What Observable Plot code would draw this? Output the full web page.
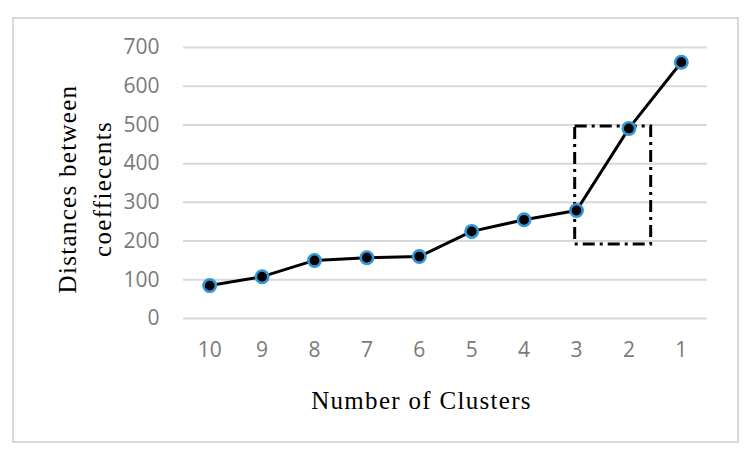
<!DOCTYPE html>
<html>
<head>
<meta charset="utf-8">
<script src="https://cdn.jsdelivr.net/npm/d3@7"></script>
<script src="https://cdn.jsdelivr.net/npm/@observablehq/plot@0.6"></script>
<style>
  html, body { margin: 0; padding: 0; background: #fff; }
  #wrap { position: relative; width: 749px; height: 456px; }
  #frame { position: absolute; left: 12px; top: 17px; width: 723px; height: 422px; border: 2px solid #d9d9d9; pointer-events: none; }
  #wrap svg g[aria-label="text"] text { letter-spacing: 1.3px; }
</style>
</head>
<body>
<div id="wrap"><div id="frame"></div></div>
<script>
const clusters = [10, 9, 8, 7, 6, 5, 4, 3, 2, 1];
const distances = [85, 108, 150, 157, 160, 225, 255, 279, 491, 662];
const yTicks = [0, 100, 200, 300, 400, 500, 600, 700];
const highlight = [{x1: 3.025, x2: 1.575, y1: 191, y2: 496}];
const xTitle = "Number of Clusters";
const yTitle = "Distances between\ncoeffiecents";

const data = clusters.map((c, i) => ({cluster: c, distance: distances[i]}));
const tickFont = "'Open Sans', sans-serif";
const titleFont = "'Liberation Serif', serif";

const chart = Plot.plot({
  width: 749,
  height: 456,
  marginLeft: 183,
  marginRight: 42,
  marginTop: 47,
  marginBottom: 138,
  style: {background: "transparent", overflow: "visible"},
  x: {domain: [10.5, 0.5], ticks: clusters, tickFormat: d => String(d)},
  y: {domain: [0, 700], ticks: yTicks},
  marks: [
    Plot.ruleY(yTicks, {stroke: "#d9d9d9", strokeWidth: 2}),
    Plot.axisY({ticks: yTicks, tickSize: 0, tickPadding: 24, fontSize: 21, fontFamily: tickFont, fill: "#7a7a7a", label: null}),
    Plot.axisX({ticks: clusters, tickSize: 0, tickPadding: 24, fontSize: 21, fontFamily: tickFont, fill: "#7a7a7a", label: null}),
    Plot.rect(highlight, {x1: "x1", x2: "x2", y1: "y1", y2: "y2", fill: "none", stroke: "black", strokeWidth: 3, strokeDasharray: "12,5,3,5"}),
    Plot.line(data, {x: "cluster", y: "distance", stroke: "black", strokeWidth: 3}),
    Plot.dot(data, {x: "cluster", y: "distance", r: 6.2, fill: "black", stroke: "#3399d6", strokeWidth: 2.6}),
    Plot.text([xTitle], {frameAnchor: "bottom", text: d => d, textAnchor: "middle", dx: -24, dy: 82, lineAnchor: "middle", fontSize: 25, fontFamily: titleFont, fill: "black"}),
    Plot.text([yTitle], {frameAnchor: "left", text: d => d, rotate: -90, textAnchor: "middle", dx: -101.5, dy: 6, lineAnchor: "middle", lineHeight: 1.4, fontSize: 25, fontFamily: titleFont, fill: "black"})
  ]
});
document.getElementById("wrap").prepend(chart);
</script>
</body>
</html>
